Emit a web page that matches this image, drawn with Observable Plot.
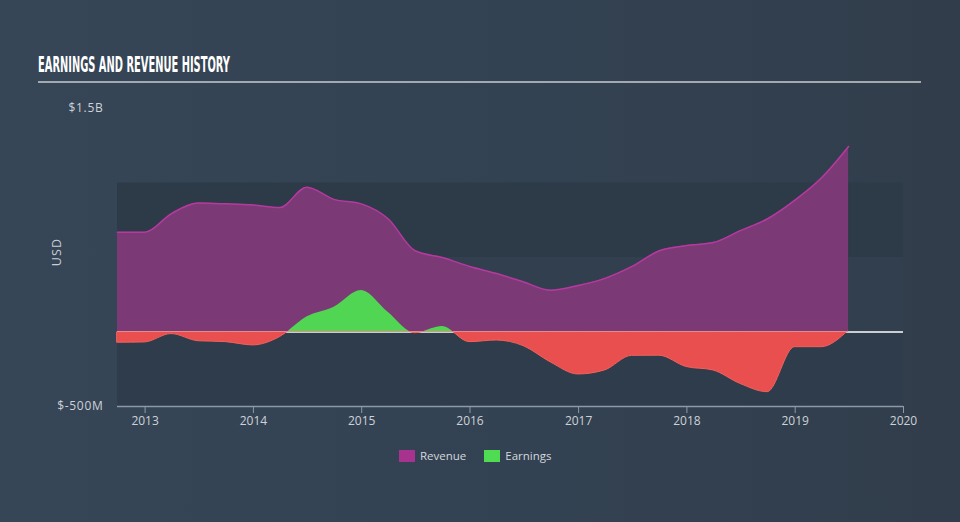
<!DOCTYPE html>
<html>
<head>
<meta charset="utf-8">
<script src="https://cdn.jsdelivr.net/npm/d3@7"></script>
<script src="https://cdn.jsdelivr.net/npm/@observablehq/plot@0.6"></script>
<style>
  html, body { margin: 0; padding: 0; }
  body { width: 960px; height: 522px; overflow: hidden;
         background: linear-gradient(90deg, #364657 0%, #334252 55%, #313d4b 100%); }
  #wrap { position: relative; width: 960px; height: 522px; font-family: "Open Sans", sans-serif; }
  #chart { position: absolute; left: 0; top: 0; }
  #title { position: absolute; left: 38px; top: 52px; color: #ffffff; font-family: "Liberation Sans Narrow", "DejaVu Sans Condensed", sans-serif;
           font-weight: bold; font-size: 22px; white-space: nowrap; transform-origin: 0 0; line-height: 26px; }
  #rule { position: absolute; left: 38px; top: 81px; width: 883px; height: 2px; background: #a3a9b1; }
  #usd { position: absolute; left: 56px; top: 252px; color: #c9ced5; font-size: 12.5px; letter-spacing: 1.2px;
         transform: translate(-50%, -50%) rotate(-90deg); white-space: nowrap; }
  #legend { position: absolute; left: 399px; top: 448px; display: flex; align-items: center; font-size: 11.5px; color: #d3d7dc; }
  .sw { width: 16px; height: 12px; display: inline-block; margin-right: 5px; }
  .item { display: flex; align-items: center; margin-right: 18px; }
  svg [aria-label^="x-axis"] line, svg [aria-label^="x-axis"] path { stroke: #8d99a8; }
  svg [aria-label^="y-axis"] text { letter-spacing: 0.7px; }
</style>
</head>
<body>
<div id="wrap">
  <div id="chart"></div>
  <div id="title">EARNINGS AND REVENUE HISTORY</div>
  <div id="rule"></div>
  <div id="usd">USD</div>
  <div id="legend"></div>
</div>
<script>
// ---- data (USD millions, quarterly) ----
const quarterEnds = ["2012-09-30","2012-12-31","2013-03-31","2013-06-30","2013-09-30","2013-12-31",
  "2014-03-31","2014-06-30","2014-09-30","2014-12-31","2015-03-31","2015-06-30","2015-09-30","2015-12-31",
  "2016-03-31","2016-06-30","2016-09-30","2016-12-31","2017-03-31","2017-06-30","2017-09-30","2017-12-31",
  "2018-03-31","2018-06-30","2018-09-30","2018-12-31","2019-03-31","2019-06-30"];
const revenue = [670,670,795,865,860,852,835,972,890,860,760,545,500,440,392,335,280,312,360,440,545,580,600,680,760,885,1035,1245];
const earnings = [-72,-70,-14,-62,-68,-90,-35,100,166,278,133,-8,37,-68,-57,-95,-205,-285,-258,-160,-159,-235,-258,-348,-404,-102,-102,8];
const xDomain = ["2012-09-30", "2020-01-01"];
const tickYears = [2013, 2014, 2015, 2016, 2017, 2018, 2019, 2020];
const yDomain = [-500, 1500];
const yTicks = [-500, 1500];
const yTickLabels = ["$-500M", "$1.5B"];
const bandEdges = [-500, 0, 500, 1000];
const bandFills = ["#2f3c4b", "#313f4e", "#2d3a48"];
const seriesNames = ["Revenue", "Earnings"];
const seriesColors = ["#a8338f", "#4fdc52"];

const parse = d3.utcParse("%Y-%m-%d");
const rows = quarterEnds.map((d, i) => ({date: parse(d), revenue: revenue[i], earnings: earnings[i]}));
const bands = bandFills.map((f, i) => ({y1: bandEdges[i], y2: bandEdges[i + 1], fill: f}));

const plot = Plot.plot({
  width: 960,
  height: 522,
  marginLeft: 117,
  marginRight: 57,
  marginTop: 108,
  marginBottom: 116,
  style: {background: "transparent", color: "#cdd2d8", fontFamily: "Open Sans, sans-serif", fontSize: "12px"},
  x: {type: "utc", domain: xDomain.map(parse), ticks: tickYears.map(y => new Date(Date.UTC(y, 0, 1))),
      tickFormat: d3.utcFormat("%Y"), tickSize: 7, tickPadding: 3, label: null},
  y: {domain: yDomain, ticks: yTicks, tickFormat: d => yTickLabels[yTicks.indexOf(d)], tickSize: 0, tickPadding: 14, label: null},
  marks: [
    Plot.rectY(bands, {y1: "y1", y2: "y2", fill: "fill"}),
    Plot.areaY(rows, {x: "date", y: "revenue", fill: "#7b3a76", curve: "monotone-x"}),
    Plot.lineY(rows, {x: "date", y: "revenue", stroke: "#b5399f", strokeWidth: 1.5, curve: "monotone-x"}),
    Plot.areaY(rows, {x: "date", y: "earnings", fill: "#51d654", curve: "monotone-x"}),
    Plot.ruleY([0], {stroke: "#ffffff", strokeWidth: 1.5}),
    Plot.areaY(rows, {x: "date", y: "earnings", fill: "#e94f4f", stroke: "#f0625c", strokeWidth: 1, curve: "monotone-x"}),
    Plot.ruleY([yDomain[0]], {stroke: "#8d99a8", strokeWidth: 1.5})
  ]
});

// clip earnings: green above zero, red below zero
const y0 = plot.scale("y").apply(0);
const ns = "http://www.w3.org/2000/svg";
const defs = document.createElementNS(ns, "defs");
function addClip(id, y, h) {
  const cp = document.createElementNS(ns, "clipPath");
  cp.setAttribute("id", id);
  const r = document.createElementNS(ns, "rect");
  r.setAttribute("x", 0); r.setAttribute("y", y); r.setAttribute("width", 960); r.setAttribute("height", h);
  cp.appendChild(r); defs.appendChild(cp);
}
addClip("above0", 0, y0);
addClip("below0", y0, 522 - y0);
plot.insertBefore(defs, plot.firstChild);
const areas = plot.querySelectorAll('g[aria-label="area"]');
function wrapClip(el, id) {
  const g = document.createElementNS(ns, "g");
  g.setAttribute("clip-path", `url(#${id})`);
  el.parentNode.insertBefore(g, el);
  g.appendChild(el);
}
wrapClip(areas[1], "above0");
wrapClip(areas[2], "below0");

document.getElementById("chart").appendChild(plot);

// title width fit
const t = document.getElementById("title");
const w = t.getBoundingClientRect().width;
t.style.transform = `scaleX(${192 / w})`;

// legend
const leg = document.getElementById("legend");
seriesNames.forEach((n, i) => {
  const it = document.createElement("div");
  it.className = "item";
  it.innerHTML = `<span class="sw" style="background:${seriesColors[i]}"></span><span>${n}</span>`;
  leg.appendChild(it);
});
</script>
</body>
</html>
